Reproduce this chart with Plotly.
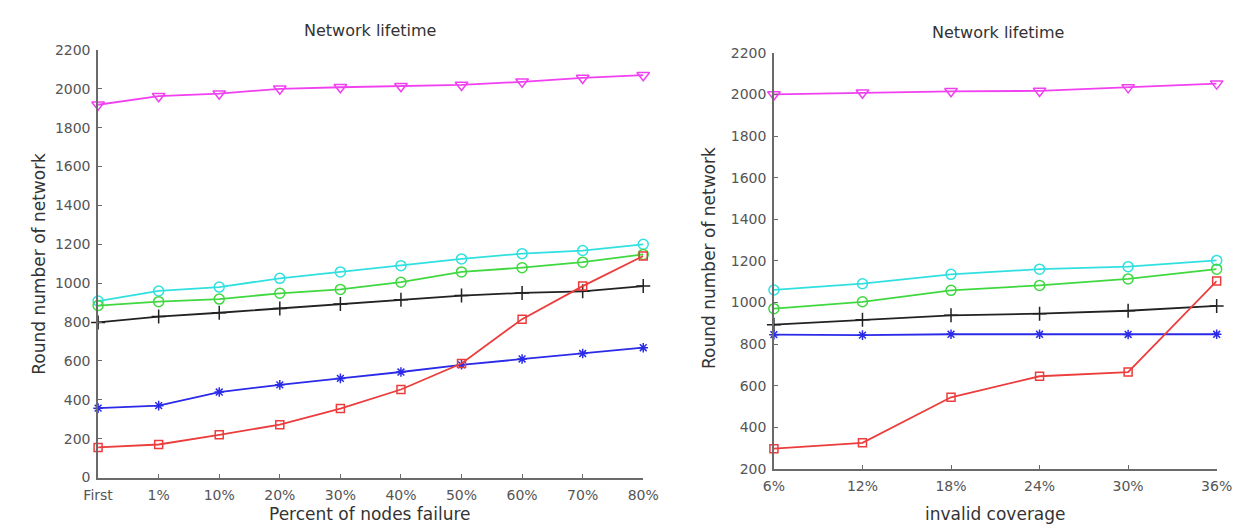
import plotly.graph_objects as go

# ---- data: left panel (percent of nodes failure) ----
left_cats = ["First", "1%", "10%", "20%", "30%", "40%", "50%", "60%", "70%", "80%"]
left_magenta = [1918, 1962, 1975, 2000, 2008, 2013, 2020, 2036, 2056, 2070]
left_cyan = [908, 960, 980, 1025, 1058, 1090, 1125, 1152, 1168, 1200]
left_green = [885, 905, 918, 948, 968, 1005, 1058, 1080, 1108, 1148]
left_black = [798, 828, 848, 870, 893, 915, 936, 950, 958, 985]
left_blue = [357, 370, 440, 477, 510, 543, 580, 610, 638, 668]
left_red = [155, 170, 220, 272, 355, 453, 587, 815, 985, 1140]

# ---- data: right panel (invalid coverage) ----
right_cats = ["6%", "12%", "18%", "24%", "30%", "36%"]
right_magenta = [2000, 2008, 2015, 2017, 2034, 2052]
right_cyan = [1060, 1090, 1135, 1160, 1172, 1202]
right_green = [970, 1003, 1058, 1082, 1113, 1160]
right_black = [893, 917, 938, 946, 960, 983]
right_blue = [845, 843, 847, 847, 846, 847]
right_red = [297, 325, 544, 645, 665, 1103]

series_styles = [
    ("magenta", "#f040f0", "triangle-down-open", 11),
    ("cyan", "#30e0e0", "circle-open", 10),
    ("green", "#40d840", "circle-open", 10),
    ("black", "#222222", "cross-thin-open", 10),
    ("blue", "#2a2ae8", "asterisk-open", 8),
    ("red", "#ec3c3c", "square-open", 8),
]

left_data = [left_magenta, left_cyan, left_green, left_black, left_blue, left_red]
right_data = [right_magenta, right_cyan, right_green, right_black, right_blue, right_red]

fig = go.Figure()

for (name, color, symbol, size), ys in zip(series_styles, left_data):
    fig.add_trace(go.Scatter(
        x=left_cats, y=ys, mode="lines+markers", name=name,
        line=dict(color=color, width=1.8),
        marker=dict(symbol=symbol, size=size, color=color, line=dict(color=color, width=1.5)),
        cliponaxis=False, xaxis="x", yaxis="y", showlegend=False,
    ))

for (name, color, symbol, size), ys in zip(series_styles, right_data):
    fig.add_trace(go.Scatter(
        x=right_cats, y=ys, mode="lines+markers", name=name,
        line=dict(color=color, width=1.8),
        marker=dict(symbol=symbol, size=size, color=color, line=dict(color=color, width=1.5)),
        cliponaxis=False, xaxis="x2", yaxis="y2", showlegend=False,
    ))

W, H = 1251, 527
tickfont = dict(family="DejaVu Sans", size=14, color="#555555")
axis_common = dict(
    showline=True, linecolor="#6a6a6a", linewidth=1.5, ticks="inside", ticklen=4,
    tickcolor="#6a6a6a", showgrid=False, zeroline=False, tickfont=tickfont,
    mirror=False,
)

fig.update_layout(
    width=W, height=H,
    margin=dict(l=0, r=0, t=0, b=0),
    paper_bgcolor="white", plot_bgcolor="white",
    xaxis=dict(domain=[77 / W, 636 / W], anchor="y", type="category",
               range=[0, len(left_cats) - 1], ticklabelstandoff=4, **axis_common),
    yaxis=dict(domain=[1 - 476 / H, 1 - 35 / H], anchor="x", range=[0, 2200],
               tickvals=list(range(0, 2201, 200)), ticklabelstandoff=3, **axis_common),
    xaxis2=dict(domain=[770 / W, 1224 / W], anchor="y2", type="category",
                range=[0, len(right_cats) - 1], ticklabelstandoff=4, **axis_common),
    yaxis2=dict(domain=[1 - 467 / H, 1 - 38 / H], anchor="x2", range=[200, 2200],
                tickvals=list(range(200, 2201, 200)), ticklabelstandoff=3, **axis_common),
)

titlefont = dict(family="DejaVu Sans", size=16, color="#333333")
labelfont = dict(family="DejaVu Sans", size=17, color="#333333")
annos = [
    dict(text="Network lifetime", x=356 / W, y=1 - 15 / H, font=titlefont),
    dict(text="Network lifetime", x=1000 / W, y=1 - 17 / H, font=titlefont),
    dict(text="Percent of nodes failure", x=356 / W, y=1 - 514 / H, font=labelfont),
    dict(text="invalid coverage", x=997 / W, y=1 - 514 / H, font=labelfont),
    dict(text="Round number of network", x=17 / W, y=1 - 256 / H, textangle=-90, font=labelfont),
    dict(text="Round number of network", x=704 / W, y=1 - 250 / H, textangle=-90, font=labelfont),
]
for a in annos:
    fig.add_annotation(xref="paper", yref="paper", showarrow=False,
                       xanchor="center", yanchor="middle", **a)

fig.write_html("out.html")
